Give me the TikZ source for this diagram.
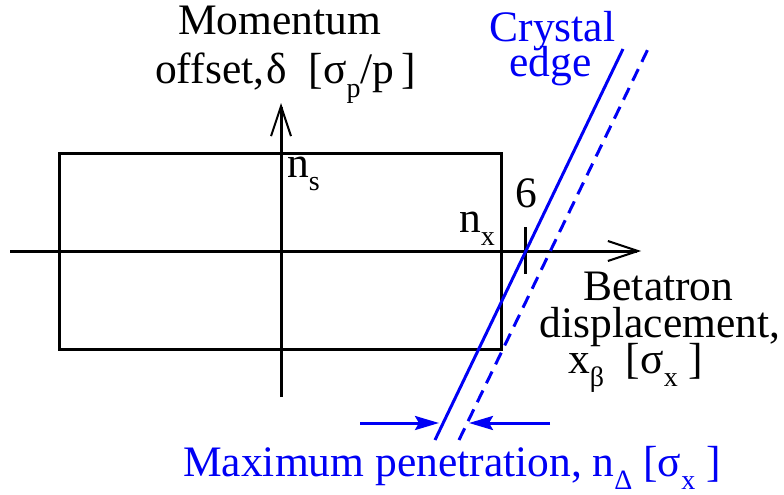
\documentclass[tikz,border=0pt]{standalone}
\usepackage{fontspec}
\setmainfont{Liberation Serif}
\usetikzlibrary{arrows.meta}
\newcommand{\mysub}[1]{\raisebox{-0.3em}{\fontsize{28}{28}\selectfont #1}}
\definecolor{cblue}{RGB}{0,0,245}
\begin{document}
\begin{tikzpicture}[x=1pt,y=-1pt,
  lbl/.style={inner sep=0pt,font=\fontsize{43.5}{43.5}\selectfont},
  blbl/.style={lbl,text=cblue},
  axis/.style={line width=3pt,-{Straight Barb[length=30pt,width=20pt,line width=2pt]}},
  box/.style={line width=3pt},
  edgeline/.style={cblue,line width=3pt},
  penarrow/.style={cblue,line width=3pt,-{Stealth[length=24pt,width=14pt,inset=4pt]}}]
\useasboundingbox (0,0) rectangle (784,495);
% coordinates
\coordinate (hl) at (10,251);
\coordinate (hr) at (641,251);
\coordinate (vb) at (281,397);
\coordinate (vt) at (281,103);
\coordinate (r1) at (59,153);
\coordinate (r2) at (501,349);
\coordinate (t1) at (525,227);
\coordinate (t2) at (525,274);
\coordinate (cs1) at (435,440);
\coordinate (cs2) at (623,49);
\coordinate (cd1) at (459,440);
\coordinate (cd2) at (648,49);
\coordinate (la) at (360,423);
\coordinate (lt) at (439,423);
\coordinate (ra) at (550,423);
\coordinate (rt) at (469,423);
% shapes
\draw[box] (r1) rectangle (r2);
\draw[axis] (hl) -- (hr);
\draw[axis] (vb) -- (vt);
\draw[line width=3pt] (t1) -- (t2);
\draw[edgeline] (cs1) -- (cs2);
\draw[edgeline,dash pattern=on 13pt off 8pt] (cd1) -- (cd2);
\draw[penarrow] (la) -- (lt);
\draw[penarrow] (ra) -- (rt);
% labels
\node[lbl,anchor=base west] (mom) at (178,35) {Momentum};
\node[lbl,anchor=base west] (off) at (155,84) {offset,\kern2ptδ\ \ [σ\mysub{p}/p\,]};
\node[lbl,anchor=base west] (ns) at (287,177) {n\mysub{s}};
\node[lbl,anchor=base west] (nx) at (459,232) {n\mysub{x}};
\node[lbl,anchor=base west] (six) at (515,207) {6};
\node[blbl,anchor=base] (cry) at (552.5,42) {Crystal};
\node[blbl,anchor=base] (edg) at (550.5,77) {edge};
\node[lbl,anchor=base] (bet) at (658.5,300) {Betatron};
\node[lbl,anchor=base] (dis) at (660,337) {displacement,};
\node[lbl,anchor=base west] (xb) at (568,373) {x\mysub{β}\ \ [σ\mysub{x}\ ]};
\node[blbl,anchor=base west] (max) at (183,476) {Maximum penetration, n\mysub{Δ}\ [σ\mysub{x}\ ]};
\end{tikzpicture}
\end{document}
